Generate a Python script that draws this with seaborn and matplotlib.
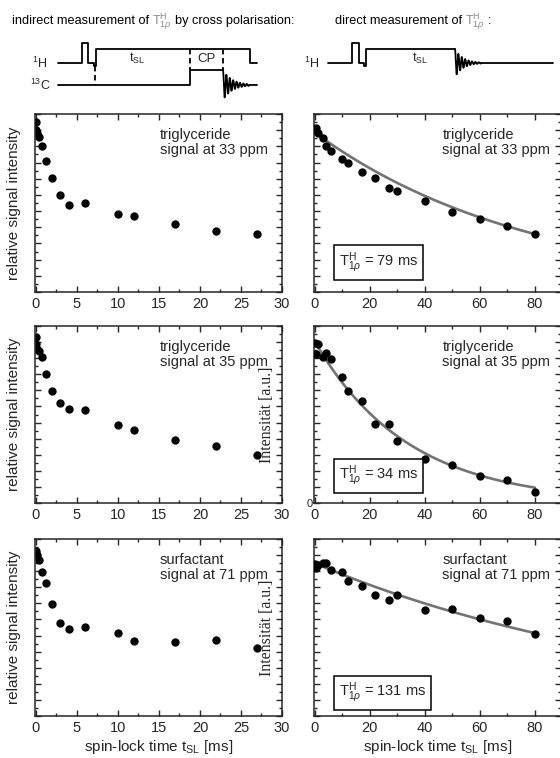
import numpy as np
import pandas as pd
import matplotlib
matplotlib.use("Agg")
import matplotlib.pyplot as plt
import seaborn as sns

sns.set_style("ticks")
plt.rcParams['font.family'] = ['Liberation Sans', 'DejaVu Sans']
plt.rcParams['mathtext.fontset'] = 'custom'
plt.rcParams['mathtext.rm'] = 'Liberation Sans'
plt.rcParams['mathtext.it'] = 'Liberation Sans:italic'
plt.rcParams['mathtext.sf'] = 'Liberation Sans'

# -----------------------------
# data (relative units 0..11)
# -----------------------------
t_indirect = [0, 0.05, 0.2, 0.4, 0.7, 1.2, 2, 3, 4, 6, 10, 12, 17, 22, 27]
ind_33 = [10.48, 9.99, 9.8, 9.6, 9.0, 8.09, 7.03, 6.0, 5.4, 5.52, 4.82, 4.69, 4.2, 3.78, 3.6]
ind_35 = [10.3, 9.88, 9.55, 9.47, 9.1, 8.04, 6.95, 6.2, 5.87, 5.75, 4.86, 4.55, 3.91, 3.54, 3.0]
ind_71 = [10.24, 10.07, 9.99, 9.72, 8.97, 8.25, 6.97, 5.79, 5.38, 5.52, 5.15, 4.65, 4.57, 4.74, 4.2]

t_direct = [0, 0.5, 1, 3, 4, 6, 10, 12, 17, 22, 27, 30, 40, 50, 60, 70, 80]
dir_33 = [9.99, 10.13, 9.82, 9.5, 9.04, 8.71, 8.2, 8.0, 7.44, 7.03, 6.43, 6.27, 5.62, 4.92, 4.49, 4.05, 3.56]
dir_35 = [9.93, 9.24, 9.86, 9.1, 9.3, 8.95, 7.86, 6.95, 6.31, 4.94, 4.94, 3.87, 2.75, 2.38, 1.65, 1.45, 0.66]
dir_71 = [9.45, 9.22, 9.4, 9.49, 9.49, 9.07, 8.93, 8.39, 8.08, 7.55, 7.24, 7.55, 6.6, 6.66, 6.1, 5.89, 5.11]

# fit results: amplitude and T1rho [ms]
fit_amp = [9.85, 10.03, 9.49]
fit_T = [79, 34, 131]

labels = ["triglyceride\nsignal at 33 ppm", "triglyceride\nsignal at 35 ppm", "surfactant\nsignal at 71 ppm"]
box_y = [0.166, 0.153, 0.13]

T1rho = r"T$_{1\rho}^{\rm H}$"

W, H = 560, 758
fig = plt.figure(figsize=(W / 100, H / 100), dpi=100)

rows = [(114, 292), (326, 503), (539, 716)]
left_x = (35, 282)
right_x = (314, 561)

def frac(px0, px1, py0, py1):
    return [px0 / W, 1 - py1 / H, (px1 - px0) / W, (py1 - py0) / H]

def style_axis(ax, xmaj, xmin, xmax):
    ax.set_yticks(np.arange(0, 12, 1))
    ax.set_yticks(np.arange(0.5, 11, 1), minor=True)
    ax.set_xticks(np.arange(0, xmax + 0.1, xmaj))
    ax.set_xticks(np.arange(xmin, xmax, xmaj), minor=True)
    ax.tick_params(which='both', direction='in', top=True, right=True, labelsize=10.5, width=1)
    ax.tick_params(which='major', length=4)
    ax.tick_params(which='minor', length=2)
    ax.set_yticklabels([])
    ax.set_ylim(0, 11)
    for s in ax.spines.values():
        s.set_linewidth(1.1)

ind_sets = [ind_33, ind_35, ind_71]
dir_sets = [dir_33, dir_35, dir_71]

for i, (py0, py1) in enumerate(rows):
    # indirect
    axl = fig.add_axes(frac(left_x[0], left_x[1], py0, py1))
    df = pd.DataFrame({"t": t_indirect, "I": ind_sets[i]})
    sns.scatterplot(data=df, x="t", y="I", ax=axl, color="black", s=36, edgecolor="black", linewidth=0)
    style_axis(axl, 5, 2.5, 30)
    axl.set_xlim(-0.1, 30)
    axl.set_ylabel("relative signal intensity", fontsize=11)
    axl.yaxis.set_label_coords(-0.056, 0.5)
    axl.set_xlabel("")
    axl.text(0.506, 0.92, labels[i], transform=axl.transAxes, fontsize=10.5, va='top', ha='left', linespacing=1.1)

    # direct
    axr = fig.add_axes(frac(right_x[0], right_x[1], py0, py1))
    df = pd.DataFrame({"t": t_direct, "I": dir_sets[i]})
    tt = np.linspace(0, 80, 200)
    fit = pd.DataFrame({"t": tt, "I": fit_amp[i] * np.exp(-tt / fit_T[i])})
    sns.lineplot(data=fit, x="t", y="I", ax=axr, color="#737373", lw=1.9)
    sns.scatterplot(data=df, x="t", y="I", ax=axr, color="black", s=36, edgecolor="black", linewidth=0, zorder=3)
    style_axis(axr, 20, 10, 80)
    axr.set_xlim(-0.3, 89.5)
    axr.set_xlabel("")
    axr.set_ylabel("")
    axr.text(0.52, 0.92, labels[i], transform=axr.transAxes, fontsize=10.5, va='top', ha='left', linespacing=1.1)
    axr.text(0.1, box_y[i], T1rho + " = %d ms" % fit_T[i], transform=axr.transAxes, fontsize=10.5,
             va='center', ha='left',
             bbox=dict(boxstyle='square,pad=0.35', fc='white', ec='black', lw=1.1))
    if i == 1:
        axr.set_yticklabels(["0"] + [""] * 11)
        axr.tick_params(axis='y', labelsize=8, pad=1)
    if i >= 1:
        axr.set_ylabel("Intensität [a.u.]", family=['Liberation Serif', 'DejaVu Serif'], fontsize=11.5)
        axr.yaxis.set_label_coords(-0.156, 0.5)
    if i == 2:
        axl.set_xlabel(r"spin-lock time t$_{\rm SL}$ [ms]", fontsize=11, labelpad=2)
        axr.set_xlabel(r"spin-lock time t$_{\rm SL}$ [ms]", fontsize=11, labelpad=2)

# -----------------------------
# pulse sequence sketches (pixel coordinates)
# -----------------------------
axd = fig.add_axes(frac(0, W, 0, 110))
axd.set_xlim(0, W)
axd.set_ylim(110, 0)
axd.axis('off')

h1_left_x = [58, 82, 82, 88, 88, 94, 94, 96, 96, 250, 250, 257]
h1_left_y = [63, 63, 43, 43, 63, 63, 66, 66, 49, 49, 63, 63]
c13_left_x = [58, 190, 190, 223]
c13_left_y = [85, 85, 70, 70]
h1_right_x = [328, 352, 352, 359, 359, 364, 364, 366, 366, 455]
h1_right_y = [63, 63, 43, 43, 63, 63, 66, 66, 49, 49]

lw = 1.3
axd.plot(h1_left_x, h1_left_y, color='black', lw=lw)
axd.plot(c13_left_x, c13_left_y, color='black', lw=lw)
axd.plot(h1_right_x, h1_right_y, color='black', lw=lw)
ft = np.linspace(0, 26, 300)
axd.plot(223 + ft, 85 - 15 * np.exp(-ft / 9) * np.cos(2 * np.pi * ft / 3.4), color='black', lw=lw)
axd.plot([249, 257], [85, 85], color='black', lw=lw)
axd.plot(455 + ft, 63 - 14 * np.exp(-ft / 8) * np.cos(2 * np.pi * ft / 3.4), color='black', lw=lw)
axd.plot([481, 553], [63, 63], color='black', lw=lw)
for xd, y0, y1 in [(95, 66, 85), (190, 49, 70), (223, 49, 70)]:
    axd.plot([xd, xd], [y0, y1], color='black', lw=lw, ls=(0, (3, 2)))

axd.text(40, 63, r"$^1$H", fontsize=9, ha='center', va='center')
axd.text(40, 85, r"$^{13}$C", fontsize=9, ha='center', va='center')
axd.text(137, 58, r"t$_{\rm SL}$", fontsize=9, ha='center', va='center')
axd.text(207, 59, "CP", fontsize=9.5, ha='center', va='center')
axd.text(312, 63, r"$^1$H", fontsize=9, ha='center', va='center')
axd.text(420, 58, r"t$_{\rm SL}$", fontsize=9, ha='center', va='center')

# headers with grey T1rho, pieces placed one after the other
def header(x, y, pieces, size=9.2):
    fig.canvas.draw()
    rend = fig.canvas.get_renderer()
    for txt, col in pieces:
        t = axd.text(x, y, txt, fontsize=size, va='baseline', ha='left', color=col)
        bb = t.get_window_extent(rend)
        x = axd.transData.inverted().transform((bb.x1, bb.y0))[0] + 3

header(12, 24, [("indirect measurement of", 'black'), (T1rho, '#8a8a8a'), ("by cross polarisation:", 'black')])
header(335, 24, [("direct measurement of", 'black'), (T1rho, '#8a8a8a'), (":", 'black')])

fig.savefig("out.png", dpi=100)
